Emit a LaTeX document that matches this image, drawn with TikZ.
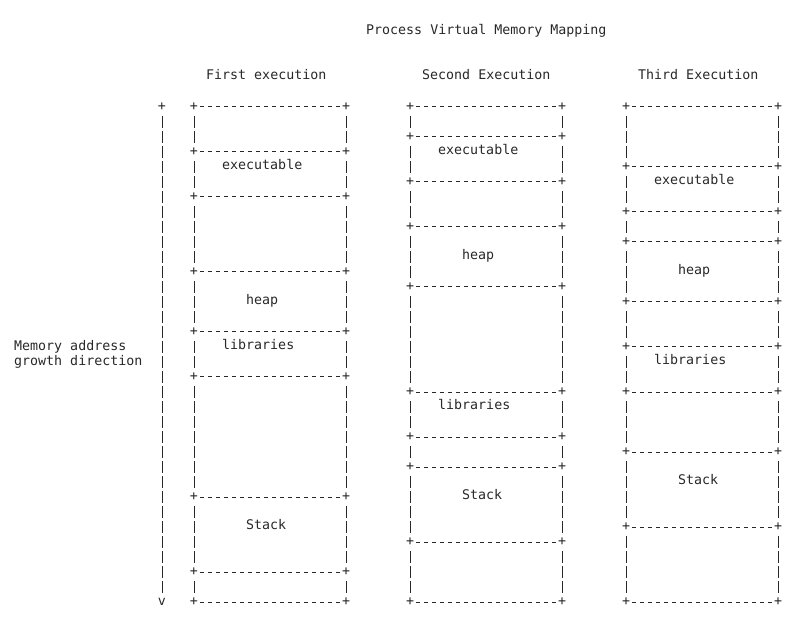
\documentclass[tikz,border=0pt]{standalone}
\usepackage{fontspec}
\setmonofont{DejaVu Sans Mono}
\definecolor{ascii_ink}{RGB}{40,40,40}

\begin{document}
\begin{tikzpicture}[
        x=8pt, y=-15pt,
        font=\ttfamily\fontsize{13.3}{15}\selectfont,
        every node/.style={text=ascii_ink},
        corner/.style={inner sep=0pt},
        label_text/.style={anchor=mid west, inner sep=0pt},
        dash_line/.style={draw=ascii_ink, line width=1pt, dash pattern=on 4pt off 4pt, shorten <=6pt, shorten >=6pt},
        bar_line/.style={draw=ascii_ink, line width=1pt, dash pattern=on 12pt off 3pt, shorten <=9pt, shorten >=9pt}
    ]
        \useasboundingbox (-0.25,-7.1333) rectangle (100.75,35.2667);

        \node[label_text] (title) at (45.5,-5) {Process Virtual Memory Mapping};
        \node[label_text] (hdr1) at (25.5,-2) {First execution};
        \node[label_text] (hdr2) at (52.5,-2) {Second Execution};
        \node[label_text] (hdr3) at (79.5,-2) {Third Execution};

        % address axis
        \node[corner] (axis_top) at (20,0) {+};
        \node[corner] (axis_end) at (20,33) {v};
        \draw[bar_line] (axis_top.center) -- (axis_end.center);
        \node[anchor=west, inner sep=0pt, align=left] (axis_label) at (1.5,16.5) {Memory address\\growth direction};

        % memory maps
        \foreach \c/\xl/\xr/\rows in {1/24/43/{0,3,6,11,15,18,26,31,33}, 2/51/70/{0,2,5,8,12,19,22,24,29,33}, 3/78/97/{0,4,7,9,13,16,19,23,28,33}} {
            \foreach \r [remember=\r as \rp (initially -1)] in \rows {
                \node[corner] (b\c-\r-l) at (\xl,\r) {+};
                \node[corner] (b\c-\r-r) at (\xr,\r) {+};
                \draw[dash_line] (b\c-\r-l.center) -- (b\c-\r-r.center);
                \ifnum\rp>-1
                    \draw[bar_line] (b\c-\rp-l.center) -- (b\c-\r-l.center);
                    \draw[bar_line] (b\c-\rp-r.center) -- (b\c-\r-r.center);
                \fi
            }
        }

        % segments
        \foreach \c/\xl/\re/\rh/\rl/\rs in {1/24/4/13/16/28, 2/51/3/10/20/26, 3/78/5/11/17/25} {
            \node[label_text] (exe\c) at (\xl+3.5,\re) {executable};
            \node[label_text] (heap\c) at (\xl+6.5,\rh) {heap};
            \node[label_text] (lib\c) at (\xl+3.5,\rl) {libraries};
            \node[label_text] (stack\c) at (\xl+6.5,\rs) {Stack};
        }
\end{tikzpicture}
\end{document}
